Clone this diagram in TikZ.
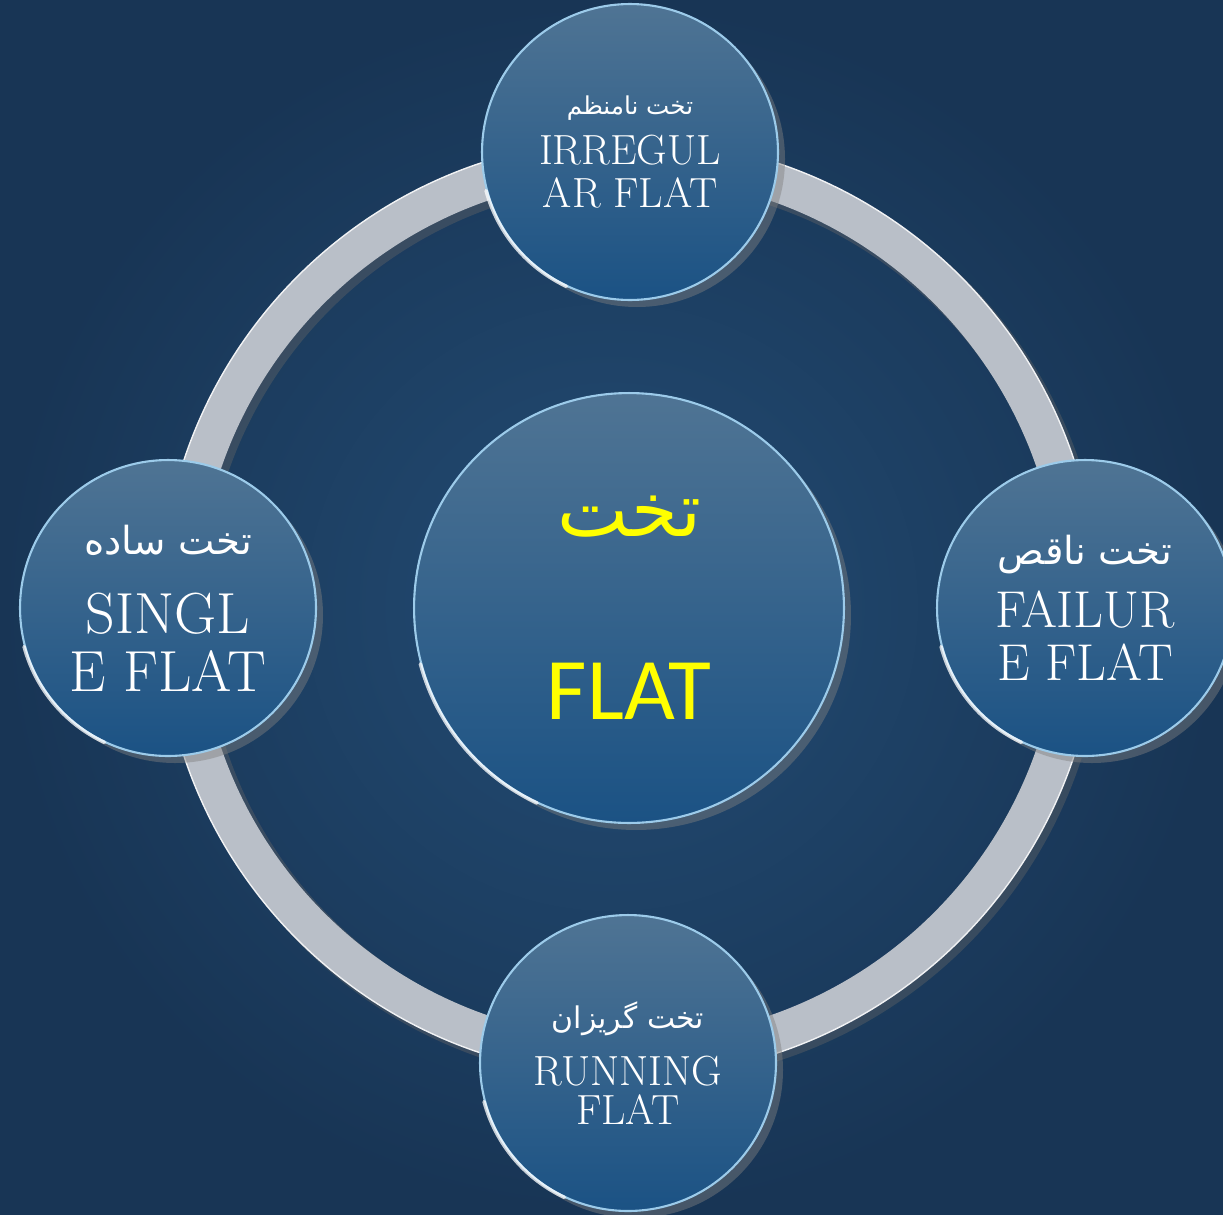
\documentclass[tikz,border=0pt]{standalone}
\usepackage{fontspec}
\usepackage{tikz}
\usetikzlibrary{shadows}
\TeXXeTstate=1
\newfontfamily\arabicfont[Script=Arabic]{DejaVu Sans}
\newfontfamily\flatfont{Carlito}
\definecolor{bgdark}{HTML}{183555}
\definecolor{bglight}{HTML}{234C74}
\definecolor{balltop}{HTML}{4F7494}
\definecolor{ballbot}{HTML}{1B5284}
\definecolor{ballrim}{HTML}{9CCBEA}
\definecolor{ringgrey}{HTML}{B9BFC8}
\definecolor{flatyellow}{HTML}{FFFF00}

\tikzset{
	flatball/.style={circle,inner sep=0pt,minimum size=5.92cm,top color=balltop,bottom color=ballbot,
		draw=ballrim,line width=1.2pt,align=center,text=white,
		drop shadow={opacity=0.45,shadow xshift=4pt,shadow yshift=-4pt}},
	bigball/.style={flatball,minimum size=8.6cm,text=flatyellow},
	gloss/.style={color=white,opacity=0.75,line width=2pt,line cap=round}
}

\begin{document}
\begin{tikzpicture}[x=0.02cm,y=-0.02cm]
		\useasboundingbox (0,0) rectangle (1223,1214);
		\fill [inner color=bglight,outer color=bgdark] (0,0) rectangle (1223,1214);
		%
		\coordinate (hub) at (629,608);
		\draw [color=black!60,opacity=0.4,line width=23pt] ([xshift=3pt,yshift=-3pt]hub) circle [radius=9cm];
		\draw [color=ringgrey,line width=21.5pt] (hub) circle [radius=9cm];
		\draw [color=white!80!ringgrey,line width=0.8pt] (hub) circle [radius=9.38cm];
		%
		\node [bigball,font=\flatfont\fontsize{50}{54}\selectfont] (flat) at (hub)
			{{\arabicfont\fontsize{43}{50}\selectfont\beginR تخت\endR}\\[50pt] FLAT};
		\node [flatball,font=\fontsize{24}{24.5}\selectfont] (irreg) at (630,152)
			{{\arabicfont\fontsize{14}{18}\selectfont\beginR تخت نامنظم\endR}\\[4pt] IRREGUL\\AR FLAT};
		\node [flatball,font=\fontsize{33}{33}\selectfont] (single) at (168,608)
			{{\arabicfont\fontsize{22}{26}\selectfont\beginR تخت ساده\endR}\\[12pt] SINGL\\E FLAT};
		\node [flatball,font=\fontsize{29.5}{30}\selectfont] (failure) at (1085,608)
			{{\arabicfont\fontsize{22}{26}\selectfont\beginR تخت ناقص\endR}\\[6pt] FAILUR\\E FLAT};
		\node [flatball,font=\fontsize{24}{22.5}\selectfont] (running) at (628,1063)
			{{\arabicfont\fontsize{17}{20}\selectfont\beginR تخت گریزان\endR}\\[10pt] RUNNING\\FLAT};
		%
		\foreach \ball/\rad in {flat/4.3,irreg/2.96,single/2.96,failure/2.96,running/2.96}
			\draw [gloss] (\ball.195) arc [start angle=195,end angle=245,radius=\rad cm];
	\end{tikzpicture}
\end{document}
